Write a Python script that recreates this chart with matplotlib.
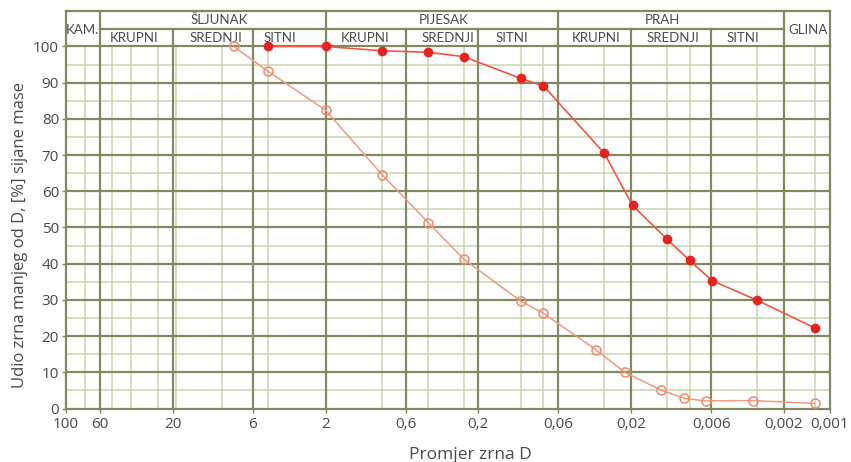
import numpy as np
import matplotlib
matplotlib.use("Agg")
import matplotlib.pyplot as plt
import matplotlib.transforms as mtransforms
from matplotlib.ticker import FixedLocator, FixedFormatter, NullLocator

# podaci ocitani s dijagrama (promjer D u mm, prolaz u %)
d_pun = [4.75, 2, 0.85, 0.425, 0.25, 0.106, 0.075, 0.03, 0.0196, 0.0116, 0.0083, 0.0059, 0.003, 0.00125]
p_pun = [100, 100, 98.8, 98.4, 97.2, 91.2, 89.1, 70.5, 56.1, 46.7, 40.9, 35.3, 29.9, 22.2]

d_prazan = [8, 4.75, 2, 0.85, 0.425, 0.25, 0.106, 0.075, 0.034, 0.022, 0.0128, 0.009, 0.0065, 0.0032, 0.00126]
p_prazan = [100, 93.1, 82.4, 64.5, 51.3, 41.3, 29.7, 26.3, 16.2, 10.0, 5.1, 2.8, 2.1, 2.2, 1.4]

x_ticks = [100, 60, 20, 6, 2, 0.6, 0.2, 0.06, 0.02, 0.006, 0.002, 0.001]
x_tick_labels = ["100", "60", "20", "6", "2", "0,6", "0,2", "0,06", "0,02", "0,006", "0,002", "0,001"]
granice = [60, 20, 6, 2, 0.6, 0.2, 0.06, 0.02, 0.006, 0.002]
sita = [75, 50, 37.5, 25, 19, 9.5, 4.75, 0.85, 0.425, 0.25, 0.106, 0.075, 0.03, 0.0116, 0.0083, 0.003, 0.00125]

grupe = ["KAM.", "ŠLJUNAK", "PIJESAK", "PRAH", "GLINA"]
grupe_x = [78, 10, 0.336, 0.0125, 0.00139]
podgrupe = ["KRUPNI", "SREDNJI", "SITNI"] * 3
podgrupe_x = [35.8, 10.45, 4.0, 1.1, 0.318, 0.121, 0.0338, 0.0107, 0.00372]

DARK = "#7f8a5e"
LIGHT = "#cdd8b2"
TXT = "#4a4a4a"

plt.rcParams['font.family'] = ['Open Sans', 'DejaVu Sans']

fig = plt.figure(figsize=(8.51, 4.62), dpi=100)
ax = fig.add_axes([0.0776, 0.1158, 0.8977, 0.7836])

ax.set_xscale("log")
ax.set_xlim(100, 0.001)
ax.set_ylim(0, 100)

# mreza
for v in sita:
    ax.axvline(v, color=LIGHT, lw=1.2, zorder=1)
for v in range(5, 100, 10):
    ax.axhline(v, color=LIGHT, lw=1.2, zorder=1)
for v in range(10, 100, 10):
    ax.axhline(v, color=DARK, lw=1.6, zorder=2)
for v in granice:
    ax.axvline(v, color=DARK, lw=1.6, zorder=2)

for s in ax.spines.values():
    s.set_color(DARK)
    s.set_linewidth(1.6)

ax.xaxis.set_major_locator(FixedLocator(x_ticks))
ax.xaxis.set_major_formatter(FixedFormatter(x_tick_labels))
ax.xaxis.set_minor_locator(NullLocator())
ax.set_yticks(range(0, 101, 10))
ax.tick_params(axis="both", colors=DARK, labelcolor=TXT, labelsize=11, length=3, width=1)
ax.tick_params(axis="x", pad=3)
ax.tick_params(axis="y", pad=2)

ax.plot(d_prazan, p_prazan, color="#f39a80", lw=1.1, marker="o", ms=6.5,
        mfc="none", mec="#f08a6e", mew=1.1, zorder=4, clip_on=False)
ax.plot(d_pun, p_pun, color="#f0583e", lw=1.2, marker="o", ms=6,
        mfc="#e8231f", mec="#e8231f", zorder=5, clip_on=False)

ax.set_xlabel("Promjer zrna D", fontsize=12.5, color=TXT)
ax.xaxis.set_label_coords(0.529, -0.107)
ax.set_ylabel("Udio zrna manjeg od D, [%] sijane mase", fontsize=12, color=TXT)
ax.yaxis.set_label_coords(-0.05, 0.48)

# zaglavlje s klasifikacijom
tr = mtransforms.blended_transform_factory(ax.transData, ax.transAxes)
y_top, y_mid = 1.098, 1.0483
ax.plot([100, 0.001], [y_top, y_top], color=DARK, lw=1.6, transform=tr, clip_on=False)
ax.plot([60, 0.002], [y_mid, y_mid], color=DARK, lw=1.6, transform=tr, clip_on=False)
for v in [100, 60, 2, 0.06, 0.002, 0.001]:
    ax.plot([v, v], [1, y_top], color=DARK, lw=1.6, transform=tr, clip_on=False)
for v in [20, 6, 0.6, 0.2, 0.02, 0.006]:
    ax.plot([v, v], [1, y_mid], color=DARK, lw=1.6, transform=tr, clip_on=False)

for t, x in zip(grupe, grupe_x):
    yy = 1.073 if t not in ("KAM.", "GLINA") else 1.045
    ax.text(x, yy, t, transform=tr, ha="center", va="center", fontsize=9.5, color=TXT,
            family=["Lato", "DejaVu Sans"])
for t, x in zip(podgrupe, podgrupe_x):
    ax.text(x, 1.0235, t, transform=tr, ha="center", va="center", fontsize=9.5, color=TXT,
            family=["Lato", "DejaVu Sans"])

fig.savefig("out.png", dpi=100)
